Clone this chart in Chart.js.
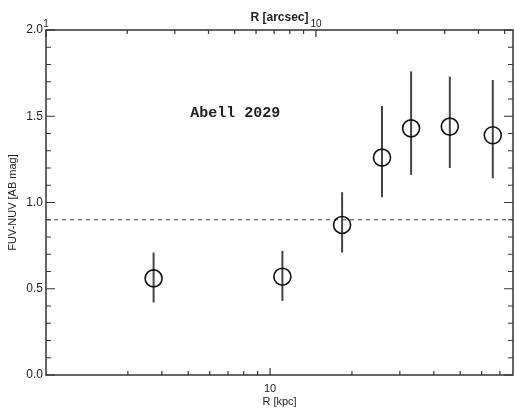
<!DOCTYPE html>
<html>
<head>
<meta charset="utf-8">
<script src="https://cdn.jsdelivr.net/npm/chart.js@4"></script>
<style>
  html, body { margin: 0; padding: 0; background: #fff; }
  canvas { display: block; }
</style>
</head>
<body>
<canvas id="colourProfile" width="515" height="416"></canvas>
<script>
// FUV-NUV colour profile of Abell 2029 against radius
const radiusKpc  = [3.73, 11.1, 18.4, 25.8, 33.0, 45.8, 65.9];
const colour     = [0.56, 0.57, 0.87, 1.26, 1.43, 1.44, 1.39];
const colourLow  = [0.42, 0.43, 0.71, 1.03, 1.16, 1.20, 1.14];
const colourHigh = [0.71, 0.72, 1.06, 1.56, 1.76, 1.73, 1.71];
const referenceColour = 0.9;

const kpcRange = [1.5, 78.2];
const arcsecRange = [1, 53.7];
const kpcLabels = [10];
const arcsecLabels = [1, 10];
const yRange = [0, 2];

const ink = '#222';
const font = 'Helvetica, Arial, "Liberation Sans", sans-serif';

function isNice(v) {
    const m = v / Math.pow(10, Math.floor(Math.log10(v) + 1e-9));
    return Math.abs(m - Math.round(m)) < 1e-6;
}
function isDecade(v) {
    const l = Math.log10(v);
    return Math.abs(l - Math.round(l)) < 1e-6;
}

// fixed box sizes for the axes, no extra edge padding from labels
function fixBox(size) {
    return s => {
        if (s.isHorizontal()) s.height = size; else s.width = size;
        s.paddingLeft = s.paddingRight = 0;
    };
}

// error bars, frame, inward tick marks and the cluster name
const frame = {
    id: 'frame',
    beforeDatasetsDraw(chart) {
        const {ctx, scales: {x, y}} = chart;
        ctx.save();
        ctx.strokeStyle = '#444';
        ctx.lineWidth = 2;
        radiusKpc.forEach((r, i) => {
            const px = x.getPixelForValue(r);
            ctx.beginPath();
            ctx.moveTo(px, y.getPixelForValue(colourLow[i]));
            ctx.lineTo(px, y.getPixelForValue(colourHigh[i]));
            ctx.stroke();
        });
        ctx.restore();
    },
    afterDraw(chart) {
        const {ctx, chartArea: a, scales: {x, x2, y}} = chart;
        ctx.save();
        ctx.strokeStyle = '#333';
        ctx.lineWidth = 1.5;
        ctx.strokeRect(a.left, a.top, a.right - a.left, a.bottom - a.top);

        ctx.lineWidth = 1.2;
        ctx.beginPath();
        y.ticks.forEach(t => {
            const py = y.getPixelForValue(t.value);
            const len = Math.round(t.value * 10) % 5 === 0 ? 9 : 5;
            ctx.moveTo(a.left, py); ctx.lineTo(a.left + len, py);
            ctx.moveTo(a.right, py); ctx.lineTo(a.right - len, py);
        });
        x.ticks.filter(t => isNice(t.value)).forEach(t => {
            const px = x.getPixelForValue(t.value);
            const len = isDecade(t.value) ? 7 : 4;
            ctx.moveTo(px, a.bottom); ctx.lineTo(px, a.bottom - len);
        });
        x2.ticks.filter(t => isNice(t.value)).forEach(t => {
            const px = x2.getPixelForValue(t.value);
            const len = isDecade(t.value) ? 7 : 4;
            ctx.moveTo(px, a.top); ctx.lineTo(px, a.top + len);
        });
        ctx.stroke();

        ctx.fillStyle = '#222';
        ctx.font = 'bold 15px "Liberation Mono", "DejaVu Sans Mono", monospace';
        ctx.textAlign = 'center';
        ctx.textBaseline = 'middle';
        ctx.fillText('Abell 2029', x.getPixelForValue(7.44), y.getPixelForValue(1.52));
        ctx.restore();
    }
};

new Chart(document.getElementById('colourProfile'), {
    type: 'scatter',
    data: {
        datasets: [
            {
                data: radiusKpc.map((r, i) => ({x: r, y: colour[i]})),
                pointStyle: 'circle',
                pointRadius: 8.5,
                pointBorderWidth: 1.6,
                borderColor: '#111',
                backgroundColor: 'rgba(0,0,0,0)'
            },
            {
                type: 'line',
                data: kpcRange.map(r => ({x: r, y: referenceColour})),
                borderColor: '#444',
                borderWidth: 1,
                borderDash: [4, 4],
                pointRadius: 0,
                fill: false
            }
        ]
    },
    options: {
        responsive: false,
        animation: false,
        events: [],
        layout: { autoPadding: false, padding: { right: 2 } },
        plugins: { legend: { display: false }, tooltip: { enabled: false } },
        scales: {
            x: {
                type: 'logarithmic',
                position: 'bottom',
                min: kpcRange[0],
                max: kpcRange[1],
                grid: { display: false, drawTicks: false },
                border: { display: false },
                ticks: {
                    autoSkip: false, maxRotation: 0, padding: 7, color: ink,
                    font: { family: font, size: 11 },
                    callback: v => kpcLabels.includes(v) ? String(v) : ''
                },
                title: {
                    display: true, text: 'R [kpc]', color: ink,
                    font: { family: font, size: 11 },
                    padding: { top: 0, bottom: 7 }
                },
                afterFit: fixBox(41)
            },
            x2: {
                type: 'logarithmic',
                position: 'top',
                min: arcsecRange[0],
                max: arcsecRange[1],
                grid: { display: false, drawTicks: false },
                border: { display: false },
                ticks: {
                    autoSkip: false, maxRotation: 0, padding: 0, color: ink,
                    font: { family: font, size: 10 },
                    callback: v => arcsecLabels.includes(v) ? String(v) : ''
                },
                title: {
                    display: true, text: 'R [arcsec]', color: ink,
                    font: { family: font, size: 12, weight: 'bold' },
                    padding: { top: 10, bottom: 0 }
                },
                afterFit: fixBox(30)
            },
            y: {
                min: yRange[0],
                max: yRange[1],
                grid: { display: false, drawTicks: false },
                border: { display: false },
                ticks: {
                    stepSize: 0.1, autoSkip: false, padding: 3, color: ink,
                    font: { family: font, size: 12 },
                    callback: v => Math.round(v * 10) % 5 === 0 ? v.toFixed(1) : ''
                },
                title: {
                    display: true, text: 'FUV-NUV [AB mag]', color: ink,
                    font: { family: font, size: 11 },
                    padding: { top: 6, bottom: 0 }
                },
                afterFit: fixBox(46)
            }
        }
    },
    plugins: [frame]
});
</script>
</body>
</html>
